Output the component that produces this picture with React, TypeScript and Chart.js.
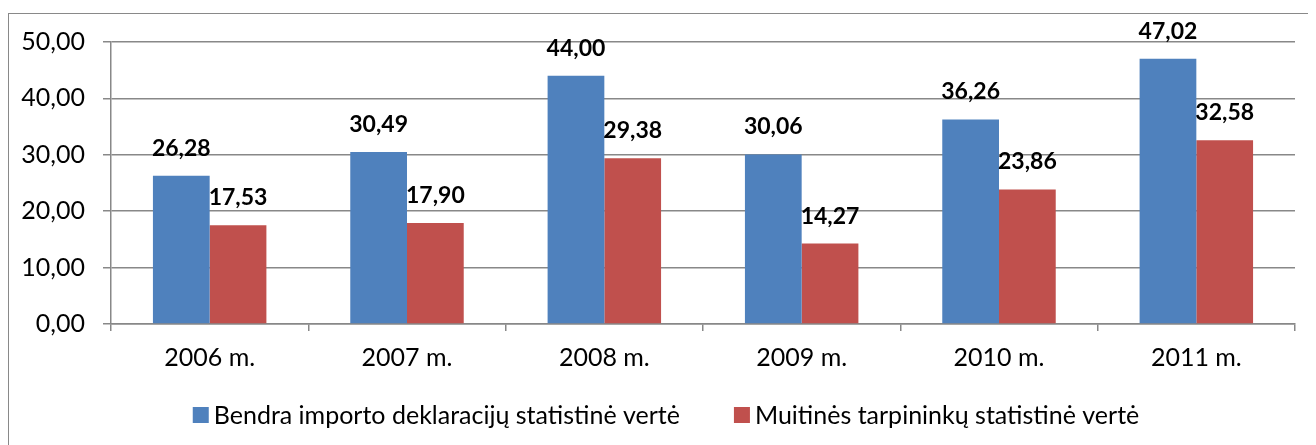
import { useEffect, useRef } from "react";
import { Chart, registerables } from "chart.js";

Chart.register(...registerables);

const categories = ["2006 m.", "2007 m.", "2008 m.", "2009 m.", "2010 m.", "2011 m."];
const seriesNames = [
  "Bendra importo deklaracijų statistinė vertė",
  "Muitinės tarpininkų statistinė vertė",
];
const seriesColors = ["#4F81BD", "#C0504D"];
const bendraValues = [26.28, 30.49, 44.0, 30.06, 36.26, 47.02];
const muitinesValues = [17.53, 17.9, 29.38, 14.27, 23.86, 32.58];
const yTicks = [0, 10, 20, 30, 40, 50];

const FONT = "Lato, 'Liberation Sans', sans-serif";
const fmt = (v: number) => v.toFixed(2).replace(".", ",");

const dataLabels = {
  id: "dataLabels",
  afterDatasetsDraw(chart: any) {
    const ctx = chart.ctx;
    ctx.save();
    ctx.font = `bold 23px ${FONT}`;
    ctx.fillStyle = "#000";
    ctx.textAlign = "center";
    ctx.textBaseline = "alphabetic";
    chart.data.datasets.forEach((ds: any, di: number) => {
      const meta = chart.getDatasetMeta(di);
      meta.data.forEach((bar: any, i: number) => {
        ctx.fillText(fmt(ds.data[i]), bar.x, bar.y - 20);
      });
    });
    ctx.restore();
  },
};

const bottomLegend = {
  id: "bottomLegend",
  afterDraw(chart: any) {
    const ctx = chart.ctx;
    const box = 16;
    const textGap = 5;
    const itemGap = 54;
    ctx.save();
    ctx.font = `25px ${FONT}`;
    const items = chart.data.datasets.map((ds: any) => ({
      text: ds.label,
      color: ds.backgroundColor,
      w: ctx.measureText(ds.label).width,
    }));
    const total =
      items.reduce((s: number, it: any) => s + box + textGap + it.w, 0) +
      itemGap * (items.length - 1);
    let x = 657 - total / 2;
    const cy = 401;
    ctx.textBaseline = "middle";
    ctx.textAlign = "left";
    items.forEach((it: any) => {
      ctx.fillStyle = it.color;
      ctx.fillRect(x, cy - box / 2, box, box);
      ctx.fillStyle = "#000";
      ctx.fillText(it.text, x + box + textGap, cy + 1);
      x += box + textGap + it.w + itemGap;
    });
    ctx.restore();
  },
};

export default function App() {
  const ref = useRef<HTMLCanvasElement>(null);
  useEffect(() => {
    document.documentElement.style.overflow = "hidden";
    document.body.style.overflow = "hidden";
    const chart = new Chart(ref.current!, {
      type: "bar",
      data: {
        labels: categories,
        datasets: [
          {
            label: seriesNames[0],
            data: bendraValues,
            backgroundColor: seriesColors[0],
            barPercentage: 1,
            categoryPercentage: 0.575,
          },
          {
            label: seriesNames[1],
            data: muitinesValues,
            backgroundColor: seriesColors[1],
            barPercentage: 1,
            categoryPercentage: 0.575,
          },
        ],
      },
      options: {
        animation: false,
        responsive: false,
        layout: { padding: { left: 0, top: 28, right: 21, bottom: 65 } },
        plugins: {
          tooltip: { enabled: false },
          legend: { display: false },
        },
        scales: {
          x: {
            afterFit(scale: any) {
              scale.height = 56;
              scale.paddingLeft = 0;
              scale.paddingRight = 0;
            },
            grid: {
              drawOnChartArea: false,
              drawTicks: true,
              tickLength: 7,
              color: "#888",
              lineWidth: 1.5,
            },
            border: { color: "#888", width: 1.5 },
            ticks: {
              color: "#000",
              padding: 12,
              font: { family: FONT, size: 25 },
            },
          },
          y: {
            min: 0,
            max: 50,
            afterFit(scale: any) {
              scale.width = 102;
              scale.paddingTop = 0;
              scale.paddingBottom = 0;
            },
            afterBuildTicks(scale: any) {
              scale.ticks = yTicks.map((v) => ({ value: v }));
            },
            grid: { color: "#888", lineWidth: 1.5, tickLength: 8 },
            border: { color: "#888", width: 1.5 },
            ticks: {
              color: "#000",
              padding: 18,
              font: { family: FONT, size: 25 },
              callback: (v: any) => fmt(Number(v)),
            },
          },
        },
      },
      plugins: [dataLabels, bottomLegend],
    });
    return () => chart.destroy();
  }, []);
  return (
    <div
      style={{
        marginTop: 5,
        width: 1308,
        height: 440,
        borderLeft: "1px solid #898989",
        borderTop: "1px solid #898989",
        boxSizing: "border-box",
      }}
    >
      <canvas ref={ref} width={1307} height={431} style={{ display: "block" }} />
    </div>
  );
}
